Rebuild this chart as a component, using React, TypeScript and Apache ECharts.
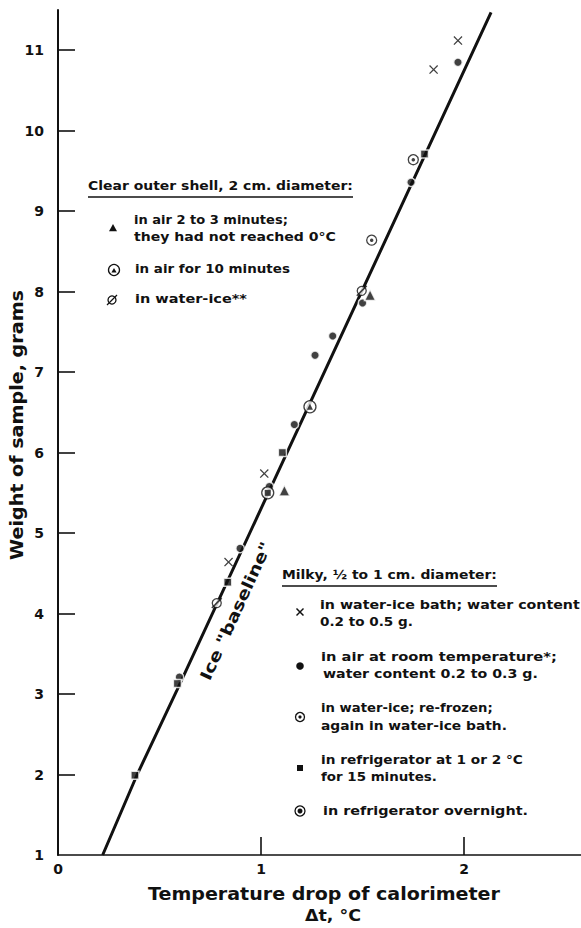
import React, { useEffect, useRef } from "react";
import * as echarts from "echarts";

const FONT = '"DejaVu Sans", sans-serif';

// Temperature drop Δt (°C) and sample weight (g) for each group of samples
const milkyIceBath = [[1.97, 11.12], [1.85, 10.76], [1.016, 5.74], [0.84, 4.64]];
const milkyAirRoom = [
  [1.97, 10.85], [1.739, 9.36], [1.5, 7.86], [1.353, 7.45], [1.266, 7.21],
  [1.164, 6.35], [1.041, 5.58], [0.897, 4.81], [0.598, 3.21],
];
const milkyRefrozen = [[1.75, 9.64], [1.545, 8.64]];
const milkyFridge15 = [[1.805, 9.71], [1.105, 6.0], [0.836, 4.39], [0.588, 3.13], [0.379, 1.99]];
const milkyFridgeNight = [[1.033, 5.5]];
const clearAir2to3 = [[1.537, 7.96], [1.115, 5.53]];
const clearAir10 = [[1.241, 6.57]];
const clearWaterIce = [[1.496, 8.01], [0.782, 4.13]];

// Ice "baseline"
const baseline = [[0.22, 1], [0.39, 2.0], [0.586, 3.05], [2.133, 11.47]];

// Axis ticks and labels
const xTickValues = [1, 2];
const xLabelValues = [0, 1, 2];
const yTickValues = [2, 3, 4, 5, 6, 7, 8, 9, 10, 11];
const yLabelValues = [1, 2, 3, 4, 5, 6, 7, 8, 9, 10, 11];

const CROSS = "path://M1,0L5,4L9,0L10,1L6,5L10,9L9,10L5,6L1,10L0,9L4,5L0,1Z";
const SLASH = "path://M0,9L9,0L10,1L1,10Z";

const measureCtx = (() => {
  const c = document.createElement("canvas");
  return c.getContext("2d");
})();

function fitScale(text: string, font: string, width: number) {
  if (!measureCtx) return 1;
  measureCtx.font = font;
  const w = measureCtx.measureText(text).width;
  return w > 0 ? width / w : 1;
}

function txt(
  text: string,
  x: number,
  y: number,
  width: number,
  size: number,
  align: string = "left",
  rotation: number = 0
) {
  const font = `bold ${size}px ${FONT}`;
  return {
    type: "text",
    x,
    y,
    rotation,
    scaleX: fitScale(text, font, width),
    silent: true,
    z: 10,
    style: {
      text,
      font,
      fill: "#111",
      textAlign: align,
      textVerticalAlign: "middle",
      align,
      verticalAlign: "middle",
    },
  };
}

const ink = "#111";

function ring(cx: number, cy: number, r: number) {
  return {
    type: "circle",
    shape: { cx, cy, r },
    style: { fill: "#fff", stroke: ink, lineWidth: 1.3 },
    silent: true,
    z: 10,
  };
}

function tri(cx: number, cy: number, s: number) {
  return {
    type: "polygon",
    shape: { points: [[cx, cy - s], [cx + s, cy + s * 0.8], [cx - s, cy + s * 0.8]] },
    style: { fill: ink },
    silent: true,
    z: 11,
  };
}

function dot(cx: number, cy: number, r: number) {
  return { type: "circle", shape: { cx, cy, r }, style: { fill: ink }, silent: true, z: 11 };
}

function seg(x1: number, y1: number, x2: number, y2: number, w: number) {
  return {
    type: "line",
    shape: { x1, y1, x2, y2 },
    style: { stroke: ink, lineWidth: w },
    silent: true,
    z: 11,
  };
}

function scatter(data: number[][], symbol: string, size: number, style: any, z: number) {
  return {
    type: "scatter",
    data,
    symbol,
    symbolSize: size,
    symbolKeepAspect: true,
    itemStyle: style,
    silent: true,
    z,
  };
}

const solid = { color: ink, borderColor: "#fff", borderWidth: 1.5 };
const hollow = { color: "#fff", borderColor: ink, borderWidth: 1.3 };

function buildGraphics() {
  const g: any[] = [];
  // Clear outer shell legend
  g.push(txt("Clear outer shell, 2 cm. diameter:", 88, 186, 265, 12.5));
  g.push(seg(88, 197, 353, 197, 1.5));
  g.push(tri(113, 228, 4));
  g.push(txt("in air 2 to 3 minutes;", 134, 220, 154, 12));
  g.push(txt("they had not reached 0°C", 134, 237, 202, 12));
  g.push(ring(114, 270, 5.5));
  g.push(tri(114, 270.5, 2.6));
  g.push(txt("in air for 10 minutes", 135, 269, 155, 12));
  g.push(ring(112, 300, 4));
  g.push(seg(107, 305, 117, 295, 1.3));
  g.push(txt("in water-ice**", 135, 299, 112, 12));

  // Milky legend
  g.push(txt("Milky, ½ to 1 cm. diameter:", 282, 575, 215, 12.5));
  g.push(seg(282, 586, 497, 586, 1.5));
  g.push(seg(296.5, 608.5, 303.5, 615.5, 1.5));
  g.push(seg(296.5, 615.5, 303.5, 608.5, 1.5));
  g.push(txt("in water-ice bath; water content", 320, 605, 260, 12));
  g.push(txt("0.2 to 0.5 g.", 320, 622, 93, 12));
  g.push(dot(300, 666, 3.8));
  g.push(txt("in air at room temperature*;", 321, 657, 236, 12));
  g.push(txt("water content 0.2 to 0.3 g.", 323, 674, 215, 12));
  g.push(ring(300, 717, 4.5));
  g.push(dot(300, 717, 1.6));
  g.push(txt("in water-ice; re-frozen;", 321, 708, 172, 12));
  g.push(txt("again in water-ice bath.", 321, 726, 186, 12));
  g.push({ type: "rect", shape: { x: 297, y: 765, width: 6, height: 6 }, style: { fill: ink }, silent: true, z: 11 });
  g.push(txt("in refrigerator at 1 or 2 °C", 321, 760, 202, 12));
  g.push(txt("for 15 minutes.", 321, 777, 116, 12));
  g.push(ring(300, 811, 5));
  g.push(dot(300, 811, 2.5));
  g.push(txt("in refrigerator overnight.", 323, 811, 205, 12));

  // Axis titles
  g.push(txt("Weight of sample, grams", 17, 425, 270, 17, "center", Math.PI / 2));
  g.push(txt("Temperature drop of calorimeter", 324, 894, 352, 17, "center"));
  g.push(txt("Δt, °C", 333, 915, 56, 16, "center"));

  // Line annotation
  g.push(txt('Ice "baseline"', 236, 611, 150, 16, "center", (65.5 * Math.PI) / 180));
  return g;
}

export default function App() {
  const ref = useRef<HTMLDivElement>(null);

  useEffect(() => {
    if (!ref.current) return;
    const chart = echarts.init(ref.current, null, { renderer: "svg" });
    const labelFont = { fontFamily: FONT, fontWeight: "bold" as const, fontSize: 14, color: ink };

    chart.setOption({
      animation: false,
      backgroundColor: "#fff",
      grid: { left: 58, right: 0, top: 10, bottom: 73 },
      xAxis: {
        type: "value",
        min: 0,
        max: 2.576,
        interval: 1,
        splitLine: { show: false },
        axisLine: { show: true, lineStyle: { color: ink, width: 1.6 } },
        axisTick: {
          show: true,
          inside: true,
          length: 18,
          customValues: xTickValues,
          lineStyle: { color: ink, width: 1.6 },
        },
        axisLabel: {
          ...labelFont,
          margin: 7,
          customValues: xLabelValues,
          formatter: (v: number) => String(v),
        },
      },
      yAxis: {
        type: "value",
        min: 1,
        max: 11.5,
        interval: 1,
        splitLine: { show: false },
        axisLine: { show: true, lineStyle: { color: ink, width: 2 } },
        axisTick: {
          show: true,
          inside: true,
          length: 17,
          customValues: yTickValues,
          lineStyle: { color: ink, width: 1.6 },
        },
        axisLabel: {
          ...labelFont,
          margin: 14,
          customValues: yLabelValues,
          formatter: (v: number) => String(v),
        },
      },
      series: [
        {
          type: "line",
          data: baseline,
          symbol: "none",
          lineStyle: { color: ink, width: 3 },
          silent: true,
          z: 1,
        },
        scatter(milkyIceBath, CROSS, 9, { color: ink }, 3),
        scatter(milkyAirRoom, "circle", 8.5, solid, 3),
        scatter(milkyFridge15, "rect", 8, solid, 3),
        scatter(clearAir2to3, "triangle", 11, solid, 3),
        scatter(milkyRefrozen, "circle", 10, hollow, 3),
        scatter(milkyRefrozen, "circle", 3.5, { color: ink }, 4),
        scatter(milkyFridgeNight, "circle", 12, hollow, 3),
        scatter(milkyFridgeNight, "rect", 6, { color: ink }, 4),
        scatter(clearAir10, "circle", 12, hollow, 3),
        scatter(clearAir10, "triangle", 6, { color: ink }, 4),
        scatter(clearWaterIce, "circle", 9, hollow, 3),
        scatter(clearWaterIce, SLASH, 11, { color: ink }, 4),
      ],
      graphic: buildGraphics(),
    });

    return () => chart.dispose();
  }, []);

  return (
    <div
      ref={ref}
      style={{ position: "absolute", left: 0, top: 0, width: 581, height: 928, background: "#fff" }}
    />
  );
}
